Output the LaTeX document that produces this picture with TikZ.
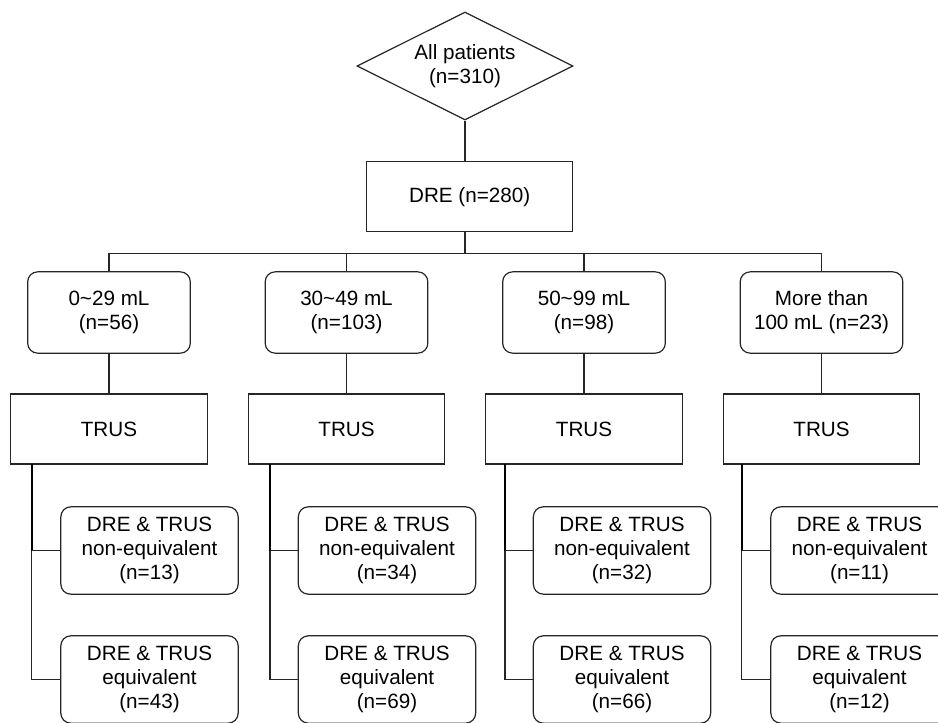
\documentclass[tikz,border=0pt]{standalone}
\usepackage{fontspec}
\setmainfont{Liberation Sans}
\usetikzlibrary{shapes.geometric,calc}
\begin{document}
\begin{tikzpicture}[x=0.75pt,y=-0.75pt,
  every node/.style={font=\fontsize{15.5}{18}\selectfont,align=center,inner sep=0pt},
  conn/.style={line width=0.8pt,draw=black!85},
  trunkhead/.style={line width=1.5pt,draw=black},
  sqbox/.style={draw=black!85,line width=0.9pt,rectangle},
  rbox/.style={draw=black!85,line width=0.9pt,rectangle,rounded corners=7.5pt},
  volbox/.style={rbox,minimum width=122pt,minimum height=61pt},
  trusbox/.style={sqbox,minimum width=147.5pt,minimum height=52.5pt},
  subbox/.style={rbox,minimum width=133pt,minimum height=65.5pt},
  start/.style={draw=black!85,line width=0.9pt,diamond,shape aspect=2,minimum width=162pt,minimum height=81pt}]
\useasboundingbox (0,0) rectangle (938,723);
\clip (0,0) rectangle (938,723);

\node[start] (all) at (465,66) {All patients\\(n=310)};
\node[sqbox,minimum width=154.5pt,minimum height=52.5pt] (dre) at (469.7,196.7) {DRE (n=280)};
\coordinate (bus) at (0,253.3);

\node[volbox] (v1) at (109,312.5) {0\char`~29 mL\\(n=56)};
\node[volbox] (v2) at (346.5,312.5) {30\char`~49 mL\\(n=103)};
\node[volbox] (v3) at (584,312.5) {50\char`~99 mL\\(n=98)};
\node[volbox] (v4) at (821.5,312.5) {More than\\100 mL (n=23)};

\node[trusbox] (t1) at (109,429) {TRUS};
\node[trusbox] (t2) at (346.5,429) {TRUS};
\node[trusbox] (t3) at (584,429) {TRUS};
\node[trusbox] (t4) at (821.5,429) {TRUS};

\node[subbox] (a1) at (149.5,550.5) {DRE \& TRUS\\non-equivalent\\(n=13)};
\node[subbox] (a2) at (387,550.5) {DRE \& TRUS\\non-equivalent\\(n=34)};
\node[subbox] (a3) at (622,550.5) {DRE \& TRUS\\non-equivalent\\(n=32)};
\node[subbox] (a4) at (859.5,550.5) {DRE \& TRUS\\non-equivalent\\(n=11)};

\node[subbox] (b1) at (149.5,679.5) {DRE \& TRUS\\equivalent\\(n=43)};
\node[subbox] (b2) at (387,679.5) {DRE \& TRUS\\equivalent\\(n=69)};
\node[subbox] (b3) at (622,679.5) {DRE \& TRUS\\equivalent\\(n=66)};
\node[subbox] (b4) at (859.5,679.5) {DRE \& TRUS\\equivalent\\(n=12)};

\coordinate (k1) at (31.7,464);
\coordinate (k2) at (270,464);
\coordinate (k3) at (505,464);
\coordinate (k4) at (741.7,464);

\draw[conn] (all.south) -- (all.south |- dre.north);
\draw[conn] (all.south |- dre.south) -- (all.south |- bus);
\draw[conn] (v1.north) -- (v1.north |- bus) -- (v4.north |- bus) -- (v4.north);
\foreach \i in {2,3}{
  \draw[conn] (v\i.north |- bus) -- (v\i.north);
}
\foreach \i in {1,2,3,4}{
  \draw[conn] (v\i.south) -- (t\i.north);
  \draw[trunkhead] (k\i) -- (k\i |- a\i.west);
  \draw[conn] (k\i |- a\i.west) |- (b\i.west);
  \draw[conn] (k\i |- a\i.west) -- (a\i.west);
}
\end{tikzpicture}
\end{document}
